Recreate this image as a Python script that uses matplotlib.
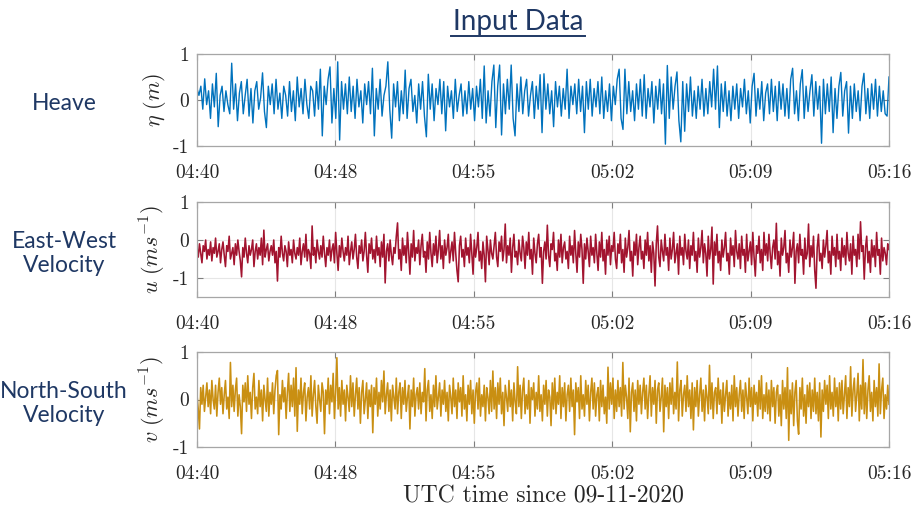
"""
Input data overview: heave and horizontal velocity components.
"""

import sys
import numpy as np
import matplotlib
matplotlib.use('Agg')  # Non-interactive backend
import matplotlib.pyplot as plt
from matplotlib.lines import Line2D

# Heave (cm)
heave_cm = [
    25, 10, 30, -20, 46, -10, 20, -40, 35, -15, 58, -58, 10, 30, -25, 20, -10, -30, 80, -20,
    35, -45, 15, 40, -30, 10, 45, -35, 25, -50, 20, 40, -20, 5, 59, -25, -60, 30, -10, 35,
    -30, 45, -20, 15, -40, 30, 10, -35, 40, -25, 20, -45, 50, -15, 25, -30, 45, -10, -40, 30,
    20, -35, 40, -20, 67, -78, 30, -10, 45, 72, -50, 25, -40, 83, -87, 40, -20, 35, -30, 50,
    -25, 30, -40, 45, -15, 20, -50, 35, -10, 40, -30, 69, -78, 25, -20, 45, -35, 10, 30, 83,
    -20, -83, 35, -15, 40, -45, 20, -30, 65, -40, 25, 45, -25, 10, -50, 35, -20, 40, -35, -80,
    56, -20, 35, -45, 25, -10, 45, -30, 40, -67, 30, -15, 20, -40, 45, -25, 10, 35, -35, 20,
    -30, 40, -20, 25, -45, 30, -15, 45, -40, 74, -50, 20, -35, 40, 76, -60, 30, 76, -76, 35,
    -30, 45, -20, 76, -40, -78, 35, -25, 50, -30, 20, 45, -35, 10, 40, -40, 30, -20, 55, -71,
    57, -20, 35, -30, 20, -58, 40, -15, 30, -35, 25, -20, 67, -40, 30, -10, 35, -30, 45, -25,
    30, -71, 40, -20, 45, -35, 25, -15, 40, -30, 50, -40, 20, -25, 35, -45, 30, -10, 45, 67,
    -40, -64, 67, -30, 40, -25, 20, -45, 35, -20, 45, -35, 55, -40, 25, -15, 40, -50, 30, -20,
    45, -30, 35, -96, 75, -40, 50, -20, 30, 61, -45, -91, 40, -68, 35, -25, 50, -35, 20, -40,
    30, -20, 45, -35, 25, -30, 40, -15, 67, -20, 74, -60, 35, -25, 40, -35, 20, -45, 30, -20,
    35, -40, 25, -15, 45, -30, 20, -50, 30, 58, -35, 25, -20, 40, -45, 15, 35, -30, 45, -25,
    30, -45, 40, -20, 35, -35, 25, -40, 45, 69, -30, 20, -45, 35, 66, -40, 30, -25, 20, 55,
    -35, 40, -20, 30, -94, 45, -30, 35, -25, 50, -71, 25, -40, 30, 60, -35, 20, 40, -72, 30,
    -40, 35, -25, 20, -45, 30, 58, -30, 25, -40, 35, -20, 45, -35, 30, -25, 20, -30, -35, 50,
]

# East-West velocity (cm/s)
u_cms = [
    -20, -45, -10, -35, -60, -15, -30, 0, -50, -25, -40, -5, -55, -20, -35, 5, -45, -30, -10, -60,
    -25, -5, -40, -70, -15, -30, 10, -50, -35, -20, -65, -10, -40, 0, -30, -55, -97, -20, -45, 5,
    -35, -60, -15, -40, -25, 0, -70, -30, -10, -50, -20, -40, 5, -65, 26, -45, -25, -10, -55, -30,
    -15, -40, 0, -60, -30, -108, -20, -45, 10, -35, -55, -15, -30, -70, -5, -40, -25, -60, 0, -35,
    -50, -20, -40, 5, -65, -30, -10, -45, 15, -55, -25, -35, -75, 37, -40, -20, -60, 0, -30, -50,
    -15, -45, 10, -35, -70, -20, -40, 0, -55, -25, -10, -60, 20, -35, -80, -15, -45, 5, -30, -55,
    -20, -40, 10, -65, -30, -5, -50, -25, 15, -45, -75, -15, -35, 0, -55, -30, 20, -40, -85, -10,
    -35, 5, -50, -25, -60, 10, -40, -20, -70, -5, -45, 15, -113, -30, -10, -55, 0, -40, -65, -20,
    -35, 10, 45, -50, -25, -80, 5, -40, -15, -60, 20, -30, -90, -10, -45, 25, -55, -20, -35, 0,
    -65, -15, 15, -45, -30, -85, -5, -50, 20, -35, -70, -10, -40, 10, -60, -25, 25, -50, -15, -75,
    0, -40, -20, 15, -60, -30, -5, -55, 20, -35, -80, -110, -15, 10, -45, -25, -70, 5, -40, -20,
    -60, 15, -35, -90, 0, -45, -20, 20, -55, -30, -75, -5, -40, -110, 10, -25, -65, 0, -35, -50,
    -15, 20, -45, -70, -5, -30, 10, -55, -25, 42, -60, -15, -40, 5, -85, -20, 15, -45, -30, -65,
    0, -35, -55, 10, -20, -75, -5, -40, 20, -50, -25, -90, 5, -35, -60, -10, 15, -45, -20, -114,
    -30, -5, -50, 39, -40, -70, -10, -25, 20, -55, -35, -80, 0, -45, 15, -60, -20, -5, -50, -30,
    -75, 10, -40, -15, -60, 25, -35, -85, -5, -45, 15, -25, -114, -10, -50, 5, -30, -70, 10, -40,
    -20, -60, 15, -35, -80, -5, -45, 20, -55, -25, -90, 0, -40, 10, -65, -15, -30, 20, -50, -75,
    -10, -35, 15, -60, -25, -85, 5, -45, -20, 25, -55, -30, -95, -5, -40, 15, -65, -20, 10, -50,
    -30, -75, 0, -40, 20, -55, -15, -85, -5, -35, -121, -10, 37, -45, -70, 0, -30, -55, 15, -40,
    -20, -80, 5, -50, -25, 20, -60, -35, -10, -90, 10, -40, -20, -65, 15, -30, -50, 0, -75, -15,
    -40, 20, -55, -30, -85, 5, -45, -20, 25, -60, -10, -35, -95, 10, -50, -25, 34, -116, -5, -40,
    15, -60, -30, -80, 0, -45, -20, 20, -55, -35, -90, 5, -40, -15, -70, 25, -30, -50, -10, -75,
    10, -40, -25, -85, 15, -55, -30, -5, -65, 20, -45, -95, -15, -35, 10, -60, -25, -80, 20, -40,
    -10, -55, 15, -35, -75, -20, 0, -50, 44, -65, -30, -95, 5, -40, -20, 25, -60, -35, -85, 0,
    -45, -20, 20, -114, -30, -10, -60, 15, -40, -25, -90, 5, -50, -35, 42, -70, -15, -45, 10, -80,
    -127, -20, 15, -55, -35, -75, 0, -45, -15, 25, -60, -30, -90, 10, -40, -20, -70, 15, -50, -30,
    -80, 5, -45, -15, -65, 20, -35, -55, -10, -90, 10, -40, -25, -70, 15, -50, 48, -30, -15, -103,
    -20, 10, -60, -30, -85, 0, -45, -15, -70, 20, -40, -25, -90, 5, -55, -20, -35, -65, -10, -25,
]

# North-South velocity (cm/s)
v_cms = [
    10, -20, -62, 25, -10, 30, -25, 5, 35, -15, 20, -30, 40, 0, -20, 30, -35, 15, 45, -10,
    25, -30, 10, 40, -20, 5, -40, 78, -15, 30, -25, 20, 45, -35, 10, -15, -72, 30, -5, 35,
    -25, 50, -10, 15, -40, 25, 55, -20, 5, -30, 40, -15, 20, -45, 30, 0, -25, 45, -35, 15,
    -10, 35, -30, 20, 50, 61, -74, 10, -20, 40, -5, 25, -40, 15, 55, -25, 30, -15, 45, -35,
    67, -67, 20, -10, 45, -30, 15, 35, -45, 5, 25, -20, 50, -35, 10, 40, -15, -50, 30, 0,
    -25, 35, 15, -72, 20, -10, 45, -30, 30, -5, 55, -40, 15, 88, -20, 25, -35, 40, -10, 20,
    -45, 30, 5, -25, 50, -15, 35, -35, 10, 45, -20, 25, -50, 15, 40, -30, 0, 35, -40, 20,
    -15, 30, -70, 25, -10, 45, -35, 15, -20, 40, -5, 60, -30, 10, 35, -25, 20, -45, 30, 5,
    -20, 45, -30, 15, 35, -40, 25, -10, 40, -25, 5, 30, -62, 20, -15, 45, -35, 10, 25, -20,
    35, -30, 15, -5, 65, -45, 20, 40, -25, 10, -40, 30, -15, 50, -20, 5, 35, -35, 20, -10,
    40, -25, 15, -45, 30, 5, -30, 45, -15, 20, -40, 35, -5, 25, -35, 50, -20, 10, -45, 30,
    -10, 40, -30, 20, -50, 15, 35, -20, 45, -35, 10, -15, 30, -45, 25, 5, -30, 40, -25, 60,
    -20, 25, -40, 35, -10, 45, -30, 15, -55, 30, 5, -25, 40, -15, 20, -45, 35, -5, -30, 69,
    -15, 30, -40, 20, 45, -30, 10, -20, 40, -50, 25, 0, 35, -35, 15, -20, 50, -25, 10, -45,
    30, -10, 40, -35, 20, 5, -55, 35, -20, 45, -30, 15, -10, 50, -40, 25, -15, 35, -45, 10,
    30, -25, 45, -15, 20, -74, 35, -5, 25, -40, 50, -20, 10, -35, 40, -10, 30, -45, 15, 45,
    -20, 35, -35, 10, 25, -45, 40, -15, 30, -30, 5, -50, 68, -20, 35, -10, 45, -40, 20, -25,
    40, -15, 25, -35, 78, -20, 30, 5, -40, 45, -68, 15, 35, -25, 20, -45, 40, -10, 30, -30,
    15, 45, -20, 30, -40, 10, 50, -35, 25, -10, 40, -50, 20, 35, -25, 5, 45, -68, 30, -15,
    25, -40, 35, -10, 45, -30, 15, -20, 79, -45, 20, 40, -35, 10, 30, -25, 50, -15, 20, -40,
    35, -64, 25, -15, 40, -35, 10, 45, -25, 20, -45, 30, 5, -30, 72, -20, 35, -40, 15, 25,
    -30, 45, -10, 20, -50, 35, -25, 10, 40, -35, 15, -20, 30, -45, 50, -15, 25, -35, 10, 40,
    -25, 20, -40, 35, 5, -30, 45, -15, 25, -45, 30, -10, 15, -35, 40, -20, 50, -40, 10, -25,
    35, -30, 20, -45, 40, -15, 25, -50, 15, 30, -35, 10, -55, 40, -20, 25, -40, 67, -86, 20,
    -30, 35, -55, 15, 40, -45, -73, 25, -20, 45, -35, 10, -50, 30, -15, 35, -40, 20, -25, 45,
    -30, 15, -45, 35, -79, 20, -25, 40, -10, 30, -40, 50, -20, 15, -35, 45, -15, 25, -45, 35,
    -20, 40, -30, 10, 50, -40, 25, -15, 69, -35, 20, 45, -25, 10, 55, -45, 30, -20, 84, -30,
    35, -40, 20, 50, -25, 15, -45, 40, -15, 25, -35, 75, -30, 20, 45, -40, 10, -20, 30, -10,
]

time_labels = ['04:40', '04:48', '04:55', '05:02', '05:09', '05:16']
row_names = ['Heave', 'East-West\nVelocity', 'North-South\nVelocity']
y_labels = [r'$\eta\ (m)$', r'$u\ (ms^{-1})$', r'$v\ (ms^{-1})$']
y_limits = [(-1, 1), (-1.5, 1), (-1, 1)]
colors = ['#0072BD', '#A2142F', '#C98F12']
line_widths = [1.0, 1.15, 1.15]

NAVY = '#1F3864'


def main():
    plt.rcParams['font.family'] = 'serif'
    plt.rcParams['font.serif'] = ['cmr10']
    plt.rcParams['mathtext.fontset'] = 'cm'
    plt.rcParams['axes.unicode_minus'] = False

    fig = plt.figure(figsize=(9.18, 5.09), dpi=100)
    W, H = 918.0, 509.0

    # panel boxes in pixels: (top, bottom)
    boxes = [(54, 146), (202, 297), (352, 447)]
    left, right = 197, 889

    series = [np.array(heave_cm) / 100.0,
              np.array(u_cms) / 100.0,
              np.array(v_cms) / 100.0]

    tick_pos = np.linspace(0, 1, len(time_labels))

    for k, (top, bot) in enumerate(boxes):
        ax = fig.add_axes([left / W, 1 - bot / H, (right - left) / W, (bot - top) / H])
        y = series[k]
        t = np.linspace(0, 1, len(y))
        ax.plot(t, y, color=colors[k], linewidth=line_widths[k])
        ax.set_xlim(0, 1)
        ax.set_ylim(*y_limits[k])
        ax.set_xticks(tick_pos)
        ax.set_xticklabels(time_labels)
        ax.set_yticks([-1, 0, 1])
        ax.set_yticklabels(['-1', '0', '1'])
        ax.grid(True, color='#e6e6e6', linewidth=0.8)
        ax.set_axisbelow(True)
        for s in ax.spines.values():
            s.set_color('#a6a6a6')
            s.set_linewidth(0.9)
        ax.tick_params(direction='in', length=4, color='#7f7f7f', labelsize=14,
                       labelcolor='#262626', top=True, right=True)
        ax.tick_params(axis='x', pad=13)
        ax.tick_params(axis='y', pad=6)
        ax.set_ylabel(y_labels[k], fontsize=16, color='#262626', labelpad=3)

        fig.text(64 / W, 1 - ((top + bot) / 2 + 4) / H, row_names[k],
                 ha='center', va='center', fontsize=16.5, color=NAVY,
                 family='Lato', linespacing=1.2)

    fig.text(543 / W, 1 - 496 / H, 'UTC time since 09-11-2020',
             ha='center', va='center', fontsize=17, color='#262626')

    fig.text(518 / W, 1 - 22 / H, 'Input Data', ha='center', va='center',
             fontsize=20, color=NAVY, family='Lato')
    fig.add_artist(Line2D([451 / W, 585 / W], [1 - 36 / H, 1 - 36 / H],
                          color=NAVY, linewidth=1.4, transform=fig.transFigure))

    fig.savefig('out.png', dpi=100)
    return 0


if __name__ == "__main__":
    sys.exit(main())
